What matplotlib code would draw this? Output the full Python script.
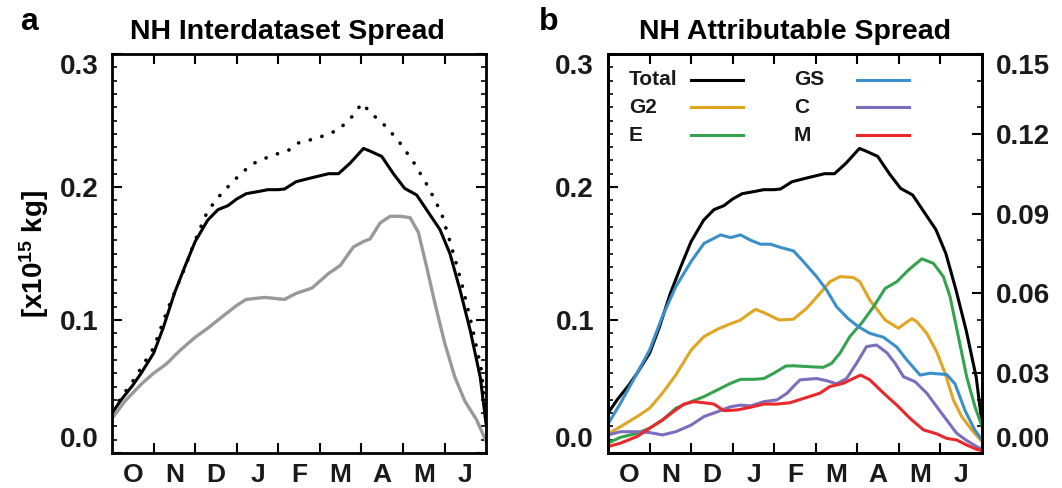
import matplotlib
matplotlib.use("Agg")
import matplotlib.pyplot as plt
import numpy as np

plt.rcParams["font.family"] = ["Liberation Sans", "DejaVu Sans"]
plt.rcParams["font.weight"] = "bold"
plt.rcParams["mathtext.default"] = "regular"

months = ["O", "N", "D", "J", "F", "M", "A", "M", "J"]

# panel a: total spread (solid), dotted and grey curves, in 1e15 kg
total_m = [0, 0.22, 0.5, 0.7, 1.0, 1.23, 1.5, 1.75, 2.0, 2.3, 2.55, 2.79, 3.0, 3.23,
           3.5, 3.75, 4.0, 4.15, 4.43, 4.81, 5.21, 5.45, 5.73, 6.05, 6.21, 6.49,
           6.77, 7.04, 7.33, 7.61, 7.89, 8.13, 8.37, 8.62, 8.86, 9.0]
total_v = [0.030, 0.040, 0.051, 0.060, 0.075, 0.094, 0.120, 0.140, 0.159, 0.175,
           0.183, 0.186, 0.191, 0.195, 0.1965, 0.198, 0.198, 0.1985, 0.204, 0.207,
           0.210, 0.210, 0.218, 0.229, 0.227, 0.223, 0.210, 0.199, 0.194, 0.181,
           0.168, 0.150, 0.123, 0.092, 0.057, 0.022]

dot_m = [0, 0.5, 1.0, 1.35, 1.75, 2.0, 2.3, 2.63, 2.97, 3.35, 3.79, 4.27, 4.47,
         4.96, 5.45, 5.81, 6.01, 6.25, 6.61, 6.93, 7.25, 7.61, 7.93, 8.17, 8.41,
         8.65, 8.89, 9.0]
dot_v = [0.032, 0.054, 0.079, 0.109, 0.139, 0.160, 0.182, 0.195, 0.206, 0.217,
         0.223, 0.228, 0.233, 0.237, 0.243, 0.254, 0.263, 0.255, 0.245, 0.233,
         0.219, 0.200, 0.180, 0.155, 0.128, 0.097, 0.062, 0.022]

grey_m = [0, 0.31, 0.71, 1.0, 1.31, 1.63, 2.0, 2.31, 2.63, 3.0, 3.23, 3.67, 4.15,
          4.43, 4.81, 5.21, 5.49, 5.81, 6.05, 6.21, 6.45, 6.69, 6.93, 7.17, 7.37,
          7.57, 7.77, 8.01, 8.25, 8.49, 8.77, 9.0]
grey_v = [0.026, 0.039, 0.052, 0.060, 0.067, 0.077, 0.087, 0.094, 0.102, 0.111,
          0.1155, 0.117, 0.1155, 0.120, 0.124, 0.135, 0.141, 0.155, 0.159, 0.161,
          0.173, 0.178, 0.178, 0.177, 0.166, 0.140, 0.1125, 0.082, 0.057, 0.039,
          0.025, 0.009]

# panel b: attributable spread, right-axis units
gs_m = [0, 0.30, 0.70, 1.0, 1.31, 1.63, 2.0, 2.31, 2.71, 2.95, 3.19, 3.43, 3.67,
        3.91, 4.15, 4.46, 4.70, 5.02, 5.26, 5.50, 5.78, 6.02, 6.30, 6.63, 6.95,
        7.19, 7.51, 7.75, 8.15, 8.35, 8.59, 8.83, 9.0]
gs_v = [0.0109, 0.0187, 0.0300, 0.0387, 0.0513, 0.0625, 0.0720, 0.0788, 0.0820,
        0.0810, 0.0820, 0.0800, 0.0785, 0.0785, 0.0773, 0.0760, 0.0720, 0.0663,
        0.0613, 0.0550, 0.0505, 0.0475, 0.0450, 0.0435, 0.0398, 0.0350, 0.0293,
        0.0300, 0.0295, 0.0260, 0.0160, 0.0085, 0.0050]

g2_m = [0, 0.30, 0.70, 1.0, 1.31, 1.63, 2.0, 2.31, 2.63, 2.87, 3.19, 3.35, 3.55,
        3.75, 4.12, 4.46, 4.78, 5.10, 5.34, 5.58, 5.90, 6.06, 6.30, 6.67, 6.99,
        7.15, 7.31, 7.43, 7.67, 7.91, 8.11, 8.31, 8.51, 8.75, 9.0]
g2_v = [0.0072, 0.0099, 0.0137, 0.0168, 0.0225, 0.0293, 0.0387, 0.0438, 0.0465,
        0.0481, 0.0500, 0.0519, 0.0540, 0.0528, 0.0500, 0.0503, 0.0544, 0.0600,
        0.0644, 0.0663, 0.0660, 0.0644, 0.0575, 0.0500, 0.0469, 0.0488, 0.0505,
        0.0494, 0.0450, 0.0380, 0.0300, 0.0200, 0.0137, 0.0087, 0.0043]

e_m = [0, 0.30, 0.70, 1.0, 1.31, 1.63, 2.0, 2.31, 2.63, 2.95, 3.19, 3.51, 3.75,
       3.99, 4.28, 4.46, 4.78, 5.18, 5.38, 5.58, 5.82, 6.10, 6.39, 6.67, 6.95,
       7.23, 7.55, 7.83, 8.07, 8.23, 8.43, 8.63, 8.83, 9.0]
e_v = [0.0037, 0.0059, 0.0074, 0.0093, 0.0124, 0.0168, 0.0193, 0.0212, 0.0237,
       0.0262, 0.0277, 0.0277, 0.0280, 0.0300, 0.0327, 0.0328, 0.0325, 0.0322,
       0.0337, 0.0375, 0.0438, 0.0488, 0.0550, 0.0619, 0.0644, 0.0688, 0.0730,
       0.0713, 0.0663, 0.0588, 0.0438, 0.0287, 0.0174, 0.0100]

c_m = [0, 0.30, 0.70, 1.0, 1.31, 1.63, 2.0, 2.31, 2.63, 2.95, 3.19, 3.43, 3.75,
       4.07, 4.31, 4.46, 4.62, 5.02, 5.26, 5.50, 5.74, 5.98, 6.22, 6.46, 6.71,
       6.91, 7.11, 7.39, 7.67, 7.91, 8.15, 8.39, 8.63, 8.87, 9.0]
c_v = [0.0068, 0.0080, 0.0080, 0.0077, 0.0068, 0.0080, 0.0105, 0.0137, 0.0155,
       0.0174, 0.0180, 0.0177, 0.0193, 0.0200, 0.0225, 0.0250, 0.0275, 0.0280,
       0.0272, 0.0260, 0.0280, 0.0337, 0.0400, 0.0406, 0.0377, 0.0337, 0.0287,
       0.0268, 0.0225, 0.0174, 0.0124, 0.0074, 0.0047, 0.0024, 0.0014]

m_m = [0, 0.30, 0.70, 1.0, 1.31, 1.63, 1.83, 2.06, 2.31, 2.55, 2.79, 3.11, 3.43,
       3.75, 4.07, 4.38, 4.70, 5.10, 5.34, 5.66, 5.90, 6.08, 6.30, 6.63, 6.95,
       7.27, 7.59, 7.91, 8.15, 8.39, 8.63, 8.87, 9.0]
m_v = [0.0024, 0.0037, 0.0062, 0.0093, 0.0124, 0.0162, 0.0184, 0.0193, 0.0189,
       0.0184, 0.0159, 0.0162, 0.0172, 0.0184, 0.0184, 0.0189, 0.0205, 0.0225,
       0.0250, 0.0262, 0.0280, 0.0293, 0.0275, 0.0225, 0.0180, 0.0130, 0.0087,
       0.0072, 0.0055, 0.0049, 0.0030, 0.0014, 0.0009]

series_b = [("Total", None, "black"), ("G2", (g2_m, g2_v), "#dfa523"),
            ("E", (e_m, e_v), "#35a24f"), ("GS", (gs_m, gs_v), "#3b8fcb"),
            ("C", (c_m, c_v), "#7c6dbd"), ("M", (m_m, m_v), "#e8282b")]

TXT = "#1a1a1a"


def style_axis(ax, right_ticks=True):
    ax.set_xlim(0, 9)
    ax.set_ylim(0, 0.3)
    ax.set_xticks(np.arange(1, 9))
    ax.set_xticks(np.arange(9) + 0.5, minor=True)
    ax.set_xticklabels([])
    ax.set_xticklabels(months, minor=True, fontsize=19, fontweight="bold", color=TXT)
    ax.tick_params(axis="x", which="major", direction="in", length=7, width=1.5,
                   top=True)
    ax.tick_params(axis="x", which="minor", length=0, pad=7)
    ax.set_yticks([0, 0.1, 0.2, 0.3])
    ax.set_yticks(np.arange(0, 0.301, 0.01), minor=True)
    ax.set_yticklabels(["0.0", "0.1", "0.2", "0.3"], fontsize=20,
                       fontweight="bold", color=TXT)
    ax.tick_params(axis="y", which="major", direction="in", length=7, width=1.5,
                   right=right_ticks, pad=10)
    ax.tick_params(axis="y", which="minor", direction="in", length=3.5, width=1.2,
                   right=right_ticks)
    labs = ax.get_yticklabels()
    labs[0].set_va("bottom")
    labs[-1].set_va("top")
    for sp in ax.spines.values():
        sp.set_linewidth(2)


fig = plt.figure(figsize=(10.62, 4.88), dpi=100)
ax1 = fig.add_axes([0.1055, 0.0717, 0.3522, 0.8176])
ax2 = fig.add_axes([0.5725, 0.0717, 0.3522, 0.8176])

# panel a
ax1.plot(dot_m, dot_v, color="black", lw=2.6, linestyle=(0, (0.05, 3.3)),
         dash_capstyle="round")
ax1.plot(total_m, total_v, color="black", lw=2.2)
ax1.plot(grey_m, grey_v, color="#999999", lw=2.4)
style_axis(ax1)
ax1.set_title("NH Interdataset Spread", fontsize=20.5, fontweight="bold",
              pad=11, x=0.47)
ax1.set_ylabel("[x10$^{15}$ kg]", fontsize=20, fontweight="bold", labelpad=6)
fig.text(0.019, 0.955, "a", fontsize=23, fontweight="bold", va="center")

# panel b
ax2.plot(total_m, total_v, color="black", lw=2.2)
style_axis(ax2, right_ticks=False)
ax2r = ax2.twinx()
for name, data, col in series_b[1:]:
    ax2r.plot(data[0], data[1], color=col, lw=2.2)
ax2r.set_ylim(0, 0.15)
ax2r.set_yticks([0, 0.03, 0.06, 0.09, 0.12, 0.15])
ax2r.set_yticks(np.arange(0, 0.1501, 0.01), minor=True)
ax2r.set_yticklabels(["0.00", "0.03", "0.06", "0.09", "0.12", "0.15"],
                     fontsize=20, fontweight="bold", color=TXT)
ax2r.tick_params(axis="y", which="major", direction="in", length=7, width=1.5, pad=10)
ax2r.tick_params(axis="y", which="minor", direction="in", length=3.5, width=1.2)
rl = ax2r.get_yticklabels()
rl[0].set_va("bottom")
rl[-1].set_va("top")
for sp in ax2r.spines.values():
    sp.set_linewidth(2)
ax2.set_title("NH Attributable Spread", fontsize=20.5, fontweight="bold", pad=11)
fig.text(0.507, 0.955, "b", fontsize=23, fontweight="bold", va="center")

# legend, two columns, label left of the line
rows = [0.935, 0.867, 0.797]
for i, (name, data, col) in enumerate(series_b):
    c, r = divmod(i, 3)
    tx = 0.056 if c == 0 else 0.497
    lx = (0.222, 0.361) if c == 0 else (0.666, 0.805)
    ax2.text(tx, rows[r], name, transform=ax2.transAxes, fontsize=15,
             fontweight="bold", color=TXT, va="center")
    ax2.plot(lx, [rows[r], rows[r]], transform=ax2.transAxes, color=col, lw=2.2)

fig.savefig("out.png", dpi=100)
